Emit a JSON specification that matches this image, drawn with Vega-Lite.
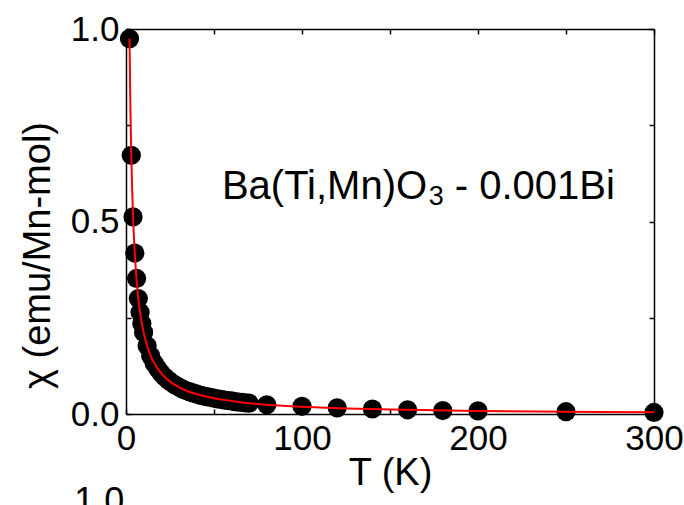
{
  "$schema": "https://vega.github.io/schema/vega-lite/v6.json",
  "width": 528,
  "height": 385,
  "autosize": "none",
  "padding": {"left": 126, "top": 29, "right": 30, "bottom": 91},
  "background": "white",
  "config": {
    "view": {"stroke": null},
    "font": "Liberation Sans",
    "axis": {
      "grid": false,
      "domainColor": "black",
      "domainWidth": 1.5,
      "tickColor": "black",
      "tickWidth": 1.5,
      "tickSize": -5,
      "labelFont": "Liberation Sans",
      "labelFontSize": 35,
      "labelColor": "black",
      "labelFlush": false,
      "labelOverlap": false,
      "titleFont": "Liberation Sans",
      "titleFontSize": 38,
      "titleFontWeight": "normal",
      "titleColor": "black"
    }
  },
  "datasets": {
    "measured": [
      {"T": 2, "chi": 0.975}, {"T": 3, "chi": 0.672}, {"T": 4, "chi": 0.512},
      {"T": 5, "chi": 0.418}, {"T": 6, "chi": 0.352}, {"T": 7, "chi": 0.300},
      {"T": 8, "chi": 0.264}, {"T": 9, "chi": 0.235}, {"T": 10, "chi": 0.212},
      {"T": 12, "chi": 0.177}, {"T": 14, "chi": 0.151}, {"T": 16, "chi": 0.132},
      {"T": 18, "chi": 0.118}, {"T": 20, "chi": 0.106}, {"T": 22, "chi": 0.096},
      {"T": 24, "chi": 0.088}, {"T": 26, "chi": 0.081}, {"T": 28, "chi": 0.075},
      {"T": 30, "chi": 0.070}, {"T": 32, "chi": 0.065}, {"T": 34, "chi": 0.061},
      {"T": 36, "chi": 0.058}, {"T": 38, "chi": 0.055}, {"T": 40, "chi": 0.052},
      {"T": 42, "chi": 0.049}, {"T": 44, "chi": 0.047}, {"T": 46, "chi": 0.045},
      {"T": 48, "chi": 0.043}, {"T": 50, "chi": 0.041}, {"T": 52, "chi": 0.039},
      {"T": 54, "chi": 0.038}, {"T": 56, "chi": 0.036}, {"T": 58, "chi": 0.035},
      {"T": 60, "chi": 0.034}, {"T": 62, "chi": 0.032}, {"T": 64, "chi": 0.031},
      {"T": 66, "chi": 0.030}, {"T": 68, "chi": 0.029}, {"T": 70, "chi": 0.028},
      {"T": 80, "chi": 0.024}, {"T": 100, "chi": 0.020}, {"T": 120, "chi": 0.016},
      {"T": 140, "chi": 0.013}, {"T": 160, "chi": 0.011}, {"T": 180, "chi": 0.009},
      {"T": 200, "chi": 0.008}, {"T": 250, "chi": 0.006}, {"T": 300, "chi": 0.004}
    ],
    "fit": [
      {"T": 2, "chi": 0.975}, {"T": 2.5, "chi": 0.797}, {"T": 3, "chi": 0.674},
      {"T": 3.5, "chi": 0.584}, {"T": 4, "chi": 0.515}, {"T": 4.5, "chi": 0.460},
      {"T": 5, "chi": 0.416}, {"T": 6, "chi": 0.349}, {"T": 7, "chi": 0.300},
      {"T": 8, "chi": 0.264}, {"T": 9, "chi": 0.235}, {"T": 10, "chi": 0.212},
      {"T": 12, "chi": 0.177}, {"T": 14, "chi": 0.151}, {"T": 17, "chi": 0.125},
      {"T": 20, "chi": 0.106}, {"T": 25, "chi": 0.084}, {"T": 30, "chi": 0.070},
      {"T": 35, "chi": 0.059}, {"T": 40, "chi": 0.052}, {"T": 50, "chi": 0.041},
      {"T": 60, "chi": 0.034}, {"T": 70, "chi": 0.028}, {"T": 80, "chi": 0.024},
      {"T": 100, "chi": 0.019}, {"T": 125, "chi": 0.0146}, {"T": 150, "chi": 0.0117},
      {"T": 175, "chi": 0.0096}, {"T": 200, "chi": 0.008}, {"T": 250, "chi": 0.0058},
      {"T": 300, "chi": 0.0043}
    ],
    "formula": [
      {"T": 54.5, "chi": 0.558, "label": "Ba(Ti,Mn)O", "part": "main"},
      {"T": 172, "chi": 0.543, "label": "3", "part": "sub"},
      {"T": 186.8, "chi": 0.558, "label": "- 0.001Bi", "part": "main"}
    ]
  },
  "layer": [
    {
      "data": {"name": "measured"},
      "mark": {"type": "circle", "size": 370, "color": "black", "opacity": 1},
      "encoding": {
        "x": {
          "field": "T", "type": "quantitative",
          "scale": {"domain": [0, 300], "nice": false},
          "axis": {
            "orient": "bottom",
            "values": [0, 50, 100, 150, 200, 250, 300],
            "labelExpr": "datum.value % 100 == 0 ? datum.label : ''",
            "labelPadding": 12,
            "title": "T (K)",
            "titleY": 40,
            "titleBaseline": "top"
          }
        },
        "y": {
          "field": "chi", "type": "quantitative",
          "scale": {"domain": [0, 1], "nice": false},
          "axis": {
            "orient": "left",
            "values": [0, 0.25, 0.5, 0.75, 1],
            "labelExpr": "datum.value == 0 || datum.value == 0.5 || datum.value == 1 ? format(datum.value, '.1f') : ''",
            "labelPadding": 12,
            "title": "χ (emu/Mn-mol)",
            "titleAngle": -90,
            "titleX": -69,
            "titleY": 226,
            "titleAlign": "center",
            "titleBaseline": "bottom"
          }
        }
      }
    },
    {
      "data": {"name": "fit"},
      "mark": {"type": "line", "color": "#ff0000", "strokeWidth": 2, "interpolate": "monotone"},
      "encoding": {
        "x": {
          "field": "T", "type": "quantitative",
          "axis": {"orient": "top", "values": [0, 50, 100, 150, 200, 250, 300], "labels": false, "title": null}
        },
        "y": {
          "field": "chi", "type": "quantitative",
          "axis": {"orient": "right", "values": [0, 0.25, 0.5, 0.75, 1], "labels": false, "title": null}
        }
      }
    },
    {
      "data": {"name": "formula"},
      "mark": {"type": "text", "align": "left", "baseline": "alphabetic", "font": "Liberation Sans", "color": "black"},
      "encoding": {
        "x": {"field": "T", "type": "quantitative", "axis": null},
        "y": {"field": "chi", "type": "quantitative", "axis": null},
        "text": {"field": "label"},
        "size": {
          "field": "part", "type": "nominal",
          "scale": {"domain": ["main", "sub"], "range": [40, 27]},
          "legend": null
        }
      }
    },
    {
      "data": {"values": [{"T": -1, "chi": -0.185, "label": "1.0"}]},
      "mark": {"type": "text", "align": "right", "baseline": "top", "font": "Liberation Sans", "fontSize": 36, "color": "black", "clip": false},
      "encoding": {
        "x": {"field": "T", "type": "quantitative", "axis": null},
        "y": {"field": "chi", "type": "quantitative", "axis": null},
        "text": {"field": "label"}
      }
    }
  ],
  "resolve": {"axis": {"x": "independent", "y": "independent"}}
}
